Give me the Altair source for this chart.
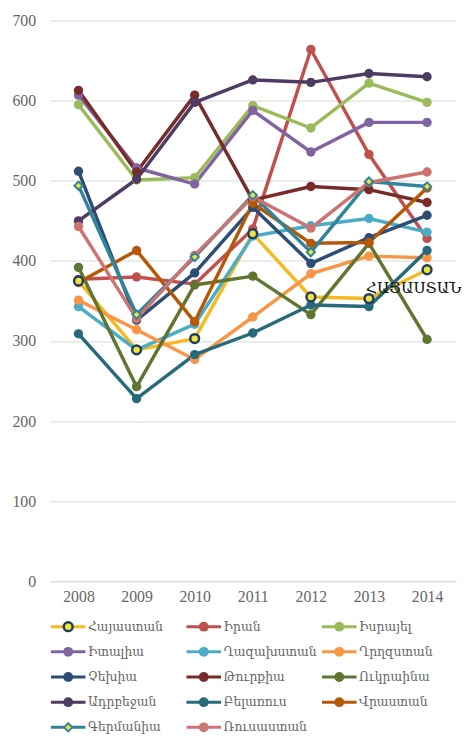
import altair as alt
import pandas as pd

years = ["2008", "2009", "2010", "2011", "2012", "2013", "2014"]

countries = ["Հայաստան", "Իրան", "Իսրայել", "Իտալիա", "Ղազախստան", "Ղրղզստան",
             "Չեխիա", "Թուրքիա", "Ուկրաինա", "Ադրբեջան", "Բելառուս", "Վրաստան",
             "Գերմանիա", "Ռուսաստան"]

armenia = [375, 289, 303, 434, 355, 353, 389]
iran = [377, 380, 371, 440, 664, 533, 428]
israel = [595, 501, 504, 594, 566, 622, 598]
italy = [607, 516, 496, 588, 536, 573, 573]
kazakhstan = [343, 289, 321, 431, 444, 453, 436]
kyrgyzstan = [351, 314, 277, 330, 384, 406, 404]
czechia = [512, 326, 385, 467, 397, 429, 457]
turkey = [613, 511, 607, 476, 493, 489, 473]
ukraine = [392, 243, 370, 381, 333, 422, 302]
azerbaijan = [450, 502, 598, 626, 623, 634, 630]
belarus = [309, 228, 283, 310, 345, 343, 413]
georgia = [373, 413, 324, 472, 422, 423, 491]
germany = [494, 333, 405, 482, 411, 499, 493]
russia = [443, 328, 407, 480, 441, 498, 511]

series_values = [armenia, iran, israel, italy, kazakhstan, kyrgyzstan, czechia,
                 turkey, ukraine, azerbaijan, belarus, georgia, germany, russia]

line_colors = ["#F5BA22", "#C0504D", "#9BBB59", "#8064A2", "#4BACC6", "#F79646",
               "#2C4D75", "#772C2A", "#5F7530", "#4D3B62", "#276A7C", "#B65708",
               "#31849B", "#CD7371"]
fill_colors = ["#F2E23E", "#C0504D", "#9BBB59", "#8064A2", "#4BACC6", "#F79646",
               "#2C4D75", "#772C2A", "#5F7530", "#4D3B62", "#276A7C", "#B65708",
               "#F2E23E", "#CD7371"]

annotation_text = "ՀԱՅԱՍՏԱՆ"
annotation_year = "2013"
legend_columns = 3

rows = []
for c, vals in zip(countries, series_values):
    for y, v in zip(years, vals):
        rows.append({"country": c, "year": y, "value": v})
df = pd.DataFrame(rows)
ann = pd.DataFrame([{"year": annotation_year,
                     "value": armenia[years.index(annotation_year)],
                     "text": annotation_text}])
legdf = pd.DataFrame([{"country": c, "col": i % legend_columns, "row": i // legend_columns}
                      for i, c in enumerate(countries)])

FONT = "Liberation Serif, DejaVu Serif, serif"
ARM_FONT = "DejaVu Serif"
LINE_PATH = "M-3.5,0L3.5,0"

color_scale = alt.Scale(domain=countries, range=line_colors)
fill_scale = alt.Scale(domain=countries, range=fill_colors)

x = alt.X("year:O", scale=alt.Scale(domain=years),
          axis=alt.Axis(title=None, labelAngle=0, ticks=False, grid=False,
                        domainColor="#D9D9D9", labelPadding=8))
y = alt.Y("value:Q", scale=alt.Scale(domain=[0, 700]),
          axis=alt.Axis(title=None, values=list(range(0, 701, 100)), ticks=False,
                        domain=False, gridColor="#D9D9D9", labelPadding=14,
                        minExtent=42, maxExtent=42))

base = alt.Chart(df)
is_arm = alt.datum.country == countries[0]
is_ger = alt.datum.country == countries[12]

lines = base.mark_line(strokeWidth=3.5, strokeJoin="round").encode(
    x=x, y=y,
    color=alt.Color("country:N", scale=color_scale, legend=None, sort=countries),
    detail="country:N",
)

points = base.transform_filter(~is_arm & ~is_ger).mark_point(
    filled=True, size=90, opacity=1).encode(
    x=x, y=y,
    fill=alt.Fill("country:N", scale=fill_scale, legend=None),
)

arm_points = base.transform_filter(is_arm).mark_point(
    filled=True, size=80, fill="#F2E23E", stroke="#1F3E60", strokeWidth=2.5, opacity=1
).encode(x=x, y=y)

ger_points = base.transform_filter(is_ger).mark_point(
    filled=True, shape="diamond", size=70, fill="#F2E23E", stroke="#31849B",
    strokeWidth=2, opacity=1
).encode(x=x, y=y)

label = alt.Chart(ann).mark_text(align="left", baseline="middle", dx=-3, dy=-11,
                                 font=ARM_FONT, fontSize=15.5, color="#111111").encode(
    x=x, y=y, text="text:N")

main = alt.layer(lines, points, arm_points, ger_points, label).properties(
    width=412, height=568)

# legend panel
lx = alt.X("col:Q", scale=alt.Scale(domain=[0, legend_columns]), axis=None)
ly = alt.Y("row:Q", scale=alt.Scale(domain=[0, 4], reverse=True, nice=False, zero=False),
           axis=None)
lbase = alt.Chart(legdf)
is_arm_l = alt.datum.country == countries[0]
is_ger_l = alt.datum.country == countries[12]

leg_lines = lbase.mark_point(shape=LINE_PATH, size=100, filled=False, strokeWidth=3,
                             xOffset=19, opacity=1).encode(
    x=lx, y=ly, stroke=alt.Stroke("country:N", scale=color_scale, legend=None))
leg_pts = lbase.transform_filter(~is_arm_l & ~is_ger_l).mark_point(
    filled=True, size=100, xOffset=19, opacity=1).encode(
    x=lx, y=ly, fill=alt.Fill("country:N", scale=fill_scale, legend=None))
leg_arm = lbase.transform_filter(is_arm_l).mark_point(
    filled=True, size=80, fill="#F2E23E", stroke="#1F3E60", strokeWidth=2.5,
    xOffset=19, opacity=1).encode(x=lx, y=ly)
leg_ger = lbase.transform_filter(is_ger_l).mark_point(
    filled=True, shape="diamond", size=70, fill="#F2E23E", stroke="#31849B",
    strokeWidth=2, xOffset=19, opacity=1).encode(x=lx, y=ly)
leg_text = lbase.mark_text(align="left", baseline="middle", dx=39, font=ARM_FONT,
                           fontSize=12.5, color="#666666").encode(
    x=lx, y=ly, text="country:N")

legend_panel = alt.layer(leg_lines, leg_pts, leg_arm, leg_ger, leg_text).properties(
    width=412, height=102)

chart = alt.vconcat(main, legend_panel, spacing=46, bounds="flush").properties(
    padding={"left": 0, "top": 0, "right": 0, "bottom": 0},
).configure_view(stroke=None).configure_axis(
    labelFont=FONT, labelFontSize=16, labelColor="#666666"
)

chart.save("out.html", embed_options={"renderer": "svg", "actions": False})
